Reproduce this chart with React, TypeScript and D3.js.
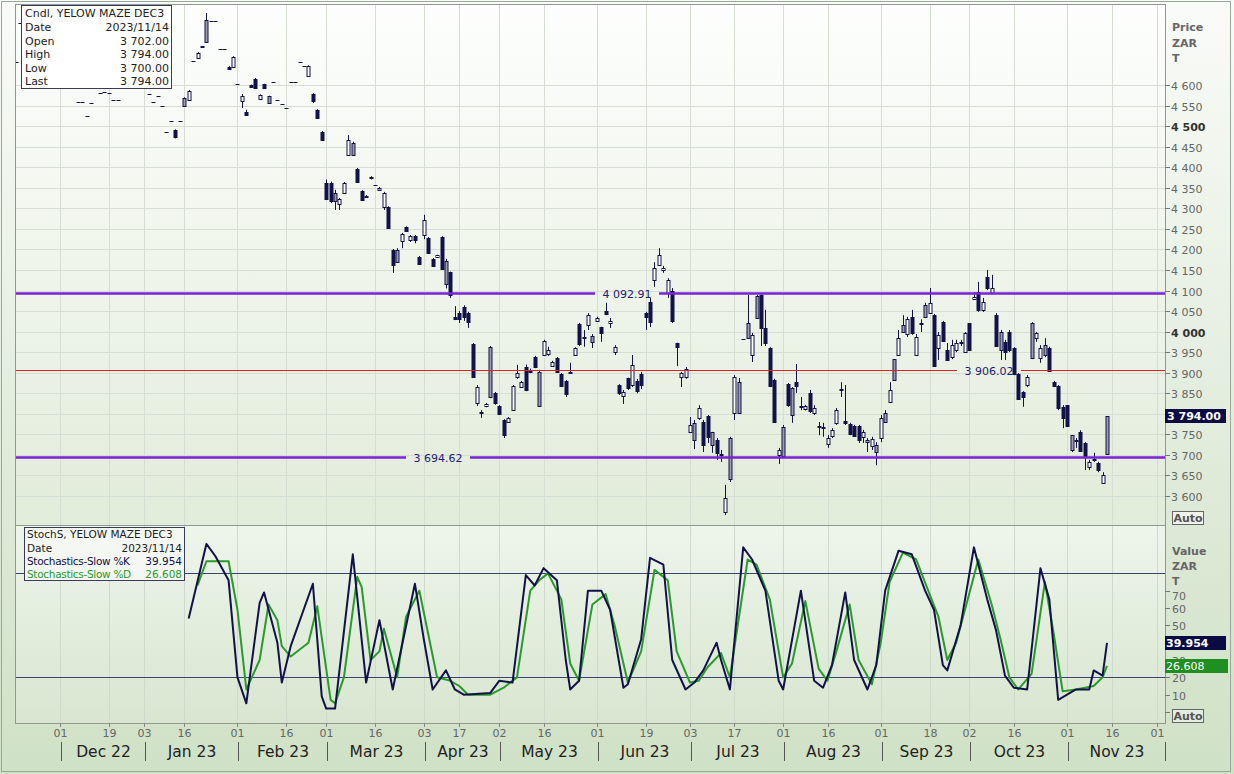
import * as d3 from 'd3';
import * as React from 'react';

// SAFEX trading calendar (weekdays minus public holidays)
const holidays = ['2022-12-16', '2022-12-26', '2022-12-27', '2023-01-02', '2023-03-21', '2023-04-07',
  '2023-04-10', '2023-04-27', '2023-05-01', '2023-06-16', '2023-08-09', '2023-09-25'];

// candles: [open, high, low, close]; a single number = flat trade; null = nothing visible
const nov22 = [4656, 4752, null, null, null, null, null, null, null, null];
const dec22 = [null, null, null, null, 4559, 4559, 4525, 4556, null, 4581, 4583, 4581, 4564, 4564, null, null, null, null, null];
const jan23 = [null, 4578, 4559, 4573, 4549, 4486, 4512, [4490, 4492, 4470, 4473], 4512, [4549, 4570, 4547, 4568],
  [4564, 4588, 4562, 4585], 4658, [4666, 4680, 4664, 4678], [4694, 4695, 4690, 4691], [4705, 4775, 4703, 4758],
  4756, 4756, 4688, 4688, [4645, 4646, 4638, 4640], [4644, 4670, 4642, 4668]];
const feb23 = [4602, [4561, 4578, 4544, 4573], [4535, 4540, 4526, 4528], [4600, 4601, 4595, 4596], [4615, 4617, 4590, 4592],
  [4566, 4577, 4564, 4575], [4602, 4603, 4592, 4593], [4556, 4574, 4555, 4573], 4607, 4564, 4554, 4544, 4607, 4607,
  4656, 4646, [4622, 4648, 4620, 4646], [4578, 4580, 4556, 4561], [4539, 4541, 4518, 4520], [4486, 4488, 4464, 4466]];
const mar23 = [[4362, 4370, 4320, 4322], [4362, 4365, 4313, 4318], [4318, 4345, 4296, 4337], [4310, 4325, 4296, 4323],
  [4337, 4364, 4335, 4362], [4430, 4478, 4428, 4466], [4430, 4462, 4428, 4458], [4396, 4398, 4362, 4364],
  [4342, 4344, 4318, 4320], [4327, 4332, 4325, 4330], [4376, 4378, 4370, 4374], 4357, [4345, 4352, 4343, 4349],
  [4303, 4340, 4296, 4337], [4303, 4305, 4250, 4252], [4199, 4201, 4143, 4162], [4169, 4203, 4167, 4199],
  [4220, 4240, 4203, 4237], [4255, 4256, 4243, 4245], [4222, 4235, 4218, 4232], [4232, 4235, 4215, 4222],
  [4182, 4184, 4162, 4165]];
const apr23 = [[4235, 4284, 4225, 4271], [4228, 4230, 4191, 4192], [4177, 4179, 4157, 4160], [4182, 4187, 4179, 4186],
  [4230, 4232, 4150, 4152], [4115, 4177, 4105, 4172], [4145, 4146, 4082, 4090], [4036, 4062, 4028, 4030],
  [4045, 4050, 4021, 4030], [4060, 4064, 4026, 4035], [4045, 4048, 4009, 4024], [3970, 3972, 3887, 3890],
  [3826, 3870, 3819, 3866], [3804, 3809, 3790, 3802], [3820, 3826, 3816, 3825], [3841, 3965, 3838, 3963],
  [3851, 3853, 3822, 3826]];
const may23 = [[3819, 3821, 3797, 3800], [3785, 3787, 3741, 3748], [3780, 3792, 3778, 3790], [3809, 3870, 3807, 3868],
  [3890, 3919, 3885, 3899], [3865, 3880, 3863, 3877], [3914, 3920, 3855, 3858], [3907, 3910, 3899, 3902],
  [3938, 3941, 3911, 3914], [3819, 3907, 3817, 3902], [3943, 3980, 3941, 3977], [3945, 3963, 3941, 3955],
  [3916, 3929, 3914, 3926], [3936, 3938, 3900, 3902], [3897, 3899, 3865, 3868], [3880, 3882, 3841, 3848],
  [3900, 3924, 3899, 3901], [3943, 3962, 3941, 3960], [4018, 4021, 3965, 3970], [3985, 4004, 3963, 3987],
  [4015, 4045, 4004, 4040], [3975, 3994, 3960, 3990]];
const jun23 = [[4026, 4036, 4024, 4034], [4011, 4012, 3975, 3997], [4050, 4070, 4040, 4043], [4021, 4033, 4009, 4025],
  [3952, 3967, 3943, 3963], [3870, 3872, 3846, 3850], [3843, 3858, 3824, 3853], [3887, 3888, 3858, 3862],
  [3870, 3943, 3865, 3919], [3880, 3885, 3850, 3855], [3897, 3902, 3860, 3870], [4045, 4048, 4004, 4036],
  [4072, 4082, 4011, 4023], [4126, 4169, 4109, 4155], [4162, 4203, 4160, 4186], [4150, 4160, 4143, 4155],
  [4094, 4130, 4082, 4126], [4100, 4106, 4021, 4028], [3972, 3973, 3916, 3963], [3890, 3902, 3865, 3899],
  [3890, 3914, 3885, 3909]];
const jul23 = [[3756, 3792, 3753, 3773], [3736, 3785, 3714, 3778], [3790, 3821, 3785, 3814], [3780, 3785, 3707, 3724],
  [3795, 3797, 3729, 3744], [3724, 3756, 3705, 3756], [3736, 3741, 3688, 3705], [3702, 3712, 3683, 3700],
  [3561, 3627, 3554, 3595], [3641, 3744, 3634, 3741], [3802, 3894, 3785, 3890], [3802, 3887, 3800, 3877],
  3982, [3984, 4089, 3982, 4021], [3943, 3997, 3926, 3992], [4033, 4089, 4031, 4087], [4089, 4092, 3965, 4009],
  [4009, 4053, 3965, 3972], [3960, 3962, 3865, 3868], [3882, 3885, 3778, 3780], [3700, 3717, 3678, 3712]];
const aug23 = [[3697, 3773, 3695, 3768], [3872, 3875, 3817, 3821], [3797, 3865, 3778, 3863], [3877, 3921, 3851, 3868],
  [3820, 3841, 3809, 3817], [3810, 3822, 3808, 3818], [3851, 3858, 3802, 3807], [3802, 3821, 3797, 3814],
  [3770, 3780, 3748, 3768], [3768, 3778, 3744, 3765], [3726, 3748, 3717, 3741], [3746, 3765, 3741, 3761],
  [3778, 3814, 3773, 3809], [3860, 3877, 3841, 3858], [3782, 3870, 3773, 3778], [3775, 3778, 3748, 3750],
  [3770, 3773, 3744, 3746], [3770, 3773, 3729, 3736], [3744, 3761, 3729, 3756], [3730, 3741, 3707, 3736],
  [3720, 3744, 3712, 3738], [3707, 3731, 3675, 3724]];
const sep23 = [[3741, 3797, 3731, 3790], [3780, 3809, 3778, 3802], [3829, 3877, 3826, 3858], [3882, 3933, 3880, 3933],
  [3943, 4004, 3941, 3984], [3999, 4040, 3997, 4016], [3994, 4036, 3987, 4031], [4036, 4053, 3992, 3997],
  [3943, 3994, 3943, 3987], [4020, 4030, 3999, 4018], [4036, 4070, 4033, 4065], [4045, 4106, 4043, 4070],
  [4040, 4043, 3914, 3916], [3960, 3999, 3931, 3992], [4023, 4026, 3975, 3977], [3955, 3972, 3929, 3931],
  [3938, 3980, 3933, 3967], [3955, 3980, 3950, 3972], [3975, 3980, 3965, 3973], [3950, 3999, 3950, 3997]];
const oct23 = [[4021, 4021, 3955, 3955], [4080, 4096, 4077, 4085], [4096, 4121, 4048, 4053], [4053, 4082, 4048, 4072],
  [4133, 4150, 4101, 4106], [4094, 4138, 4092, 4106], [4040, 4045, 3963, 3965], [3955, 4004, 3931, 3999],
  [3975, 3980, 3931, 3950], [3999, 4004, 3950, 3955], [3960, 3962, 3894, 3897], [3897, 3899, 3834, 3836],
  [3853, 3855, 3817, 3841], [3870, 3894, 3865, 3890], [3936, 4023, 3933, 4021], [3985, 3999, 3975, 3997],
  [3936, 3967, 3924, 3960], [3943, 3984, 3938, 3967], [3960, 3963, 3902, 3904], [3877, 3880, 3865, 3868],
  [3868, 3870, 3809, 3814], [3817, 3821, 3765, 3790]];
const nov23 = [[3821, 3821, 3768, 3770], [3712, 3748, 3707, 3748], [3735, 3741, 3717, 3736], [3756, 3760, 3707, 3710],
  [3729, 3731, 3663, 3695], [3670, 3688, 3663, 3683], [3690, 3705, 3683, 3688], [3680, 3683, 3658, 3663],
  [3632, 3658, 3632, 3651], [3702, 3794, 3700, 3794]];

// day numbers (0 = 2022-12-01) of candles drawn with grey bodies
const greyCandles = [28, 33, 47, 62, 66, 72, 76, 87, 97, 108, 120, 143, 147, 151, 153, 155, 157, 163, 165,
  182, 184, 186, 188, 190, 195, 212, 219, 222, 228, 236];

// slow stochastic, [day number, value]
const stochK = [[29, 54], [33, 97], [35, 90], [38, 76], [40, 20], [42, 5], [45, 63], [46, 69], [49, 40], [50, 17],
  [52, 38], [57, 74], [59, 9], [60, 2], [62, 2], [66, 91], [69, 17], [72, 53], [75, 13], [80, 74], [82, 42],
  [84, 13], [87, 24], [89, 13], [91, 10], [97, 11], [99, 18], [102, 17], [105, 79], [107, 73], [109, 83],
  [112, 76], [114, 30], [115, 13], [117, 18], [119, 70], [122, 70], [124, 59], [127, 14], [128, 16], [131, 42],
  [133, 89], [136, 85], [138, 30], [141, 13], [143, 17], [145, 24], [148, 40], [149, 30], [151, 13], [154, 95],
  [156, 88], [159, 70], [162, 18], [163, 13], [167, 70], [170, 18], [172, 14], [174, 27], [177, 69], [179, 30],
  [182, 13], [184, 27], [186, 70], [189, 93], [192, 91], [195, 70], [197, 59], [199, 27], [200, 24], [203, 50],
  [206, 95], [209, 65], [211, 47], [213, 21], [215, 14], [218, 13], [219, 36], [221, 83], [223, 65], [225, 7],
  [227, 10], [229, 13], [232, 13], [233, 24], [235, 21], [236, 39.954]];
const stochD = [[31, 73], [33, 87], [38, 87], [40, 59], [42, 13], [45, 30], [47, 62], [49, 53], [50, 38], [52, 32],
  [56, 40], [58, 61], [61, 7], [62, 5], [64, 20], [67, 78], [68, 72], [70, 30], [72, 35], [73, 48], [76, 20],
  [78, 55], [81, 70], [83, 45], [85, 20], [88, 18], [90, 15], [92, 10], [97, 10], [100, 14], [103, 20], [106, 70],
  [108, 76], [110, 80], [113, 65], [115, 28], [117, 18], [120, 62], [123, 68], [125, 50], [128, 17], [131, 35],
  [134, 82], [137, 76], [139, 35], [142, 17], [144, 18], [146, 26], [149, 34], [151, 20], [155, 88], [157, 85],
  [160, 65], [163, 20], [165, 28], [168, 64], [171, 25], [173, 18], [175, 35], [178, 62], [180, 30], [183, 16],
  [185, 40], [187, 75], [190, 92], [193, 88], [196, 68], [198, 55], [200, 30], [202, 40], [207, 88], [210, 62],
  [212, 42], [214, 20], [216, 13], [219, 22], [222, 75], [224, 45], [226, 12], [229, 13], [233, 15], [235, 20],
  [236, 26.608]];

const levels = [4092.91, 3906.02, 3694.62];
const stochLevels = [80, 20];

const dayTicks = ['2022-12-01', '2022-12-19', '2023-01-03', '2023-01-16', '2023-02-01', '2023-02-16', '2023-03-01',
  '2023-03-16', '2023-04-03', '2023-04-17', '2023-05-02', '2023-05-16', '2023-06-01', '2023-06-19', '2023-07-03',
  '2023-07-17', '2023-08-01', '2023-08-16', '2023-09-01', '2023-09-18', '2023-10-02', '2023-10-16', '2023-11-01',
  '2023-11-16', '2023-12-01'];
const monthStarts = ['2022-12-01', '2023-01-03', '2023-02-01', '2023-03-01', '2023-04-03', '2023-05-02', '2023-06-01',
  '2023-07-03', '2023-08-01', '2023-09-01', '2023-10-02', '2023-11-01'];
const monthLabels = ['Dec 22', 'Jan 23', 'Feb 23', 'Mar 23', 'Apr 23', 'May 23', 'Jun 23', 'Jul 23', 'Aug 23',
  'Sep 23', 'Oct 23', 'Nov 23'];
const stochTicks = [10, 20, 30, 50, 60, 70];

const lastDate = '2023/11/14';
const last = { open: 3702, high: 3794, low: 3700, close: 3794 };
const lastK = 39.954;
const lastD = 26.608;

const fmtDay = d3.utcFormat('%Y-%m-%d');
const calendar = d3.utcDay.range(new Date(Date.UTC(2022, 10, 17)), new Date(Date.UTC(2023, 11, 2)))
  .filter(d => d.getUTCDay() !== 0 && d.getUTCDay() !== 6 && !holidays.includes(fmtDay(d)))
  .map(fmtDay);
const origin = calendar.indexOf('2022-12-01');
const dayNo = (s: string) => calendar.indexOf(s) - origin;

const candles: any[] = [...nov22, ...dec22, ...jan23, ...feb23, ...mar23, ...apr23, ...may23, ...jun23, ...jul23,
  ...aug23, ...sep23, ...oct23, ...nov23];

const loc = d3.formatLocale({ decimal: '.', thousands: ' ', grouping: [3], currency: ['', ''] });
const f2 = loc.format(',.2f');
const f0 = loc.format(',.0f');

const FONT = 'DejaVu Sans';
const NAVY = '#12124a';
const GREEN = '#2b9a2b';
const L = 15, R = 1165;
const PT = 4, PB = 525, ST = 525, SB = 723;

export default function App() {
  React.useEffect(() => { document.body.style.margin = '0'; }, []);

  const x = d3.scaleLinear()
    .domain([0, dayNo('2023-11-14'), dayNo('2023-11-16'), dayNo('2023-12-01')])
    .range([60, 1107, 1112, 1157]);
  const y = d3.scaleLinear().domain([3600, 4600]).range([496, 85]);
  const ys = d3.scaleLinear().domain([0, 100]).range([712, 538.7]);
  const priceTicks = d3.range(3600, 4601, 50);

  const line = d3.line<number[]>().x(d => x(d[0])).y(d => ys(d[1]));

  const labelGap = (cx: number, color: string, w: number, txt: string, yy: number) => {
    const tw = txt.length * 7 + 8;
    return (
      <g key={txt}>
        <line x1={L} x2={cx - tw / 2} y1={yy} y2={yy} stroke={color} strokeWidth={w} />
        <line x1={cx + tw / 2} x2={R} y1={yy} y2={yy} stroke={color} strokeWidth={w} />
        <text x={cx} y={yy + 4} textAnchor="middle" fontSize={11} fill="#1c1c78" fontFamily={FONT}>{txt}</text>
      </g>
    );
  };

  const candleMarks = candles.map((c, i) => {
    if (c === null) return null;
    const n = i - origin;
    const cx = Math.round(x(n)) + 0.5;
    if (typeof c === 'number') {
      const yy = Math.round(y(c)) + 0.5;
      return <line key={i} x1={cx - 2} x2={cx + 2} y1={yy} y2={yy} stroke={NAVY} strokeWidth={1} />;
    }
    const [o, h, l, cl] = c;
    const top = y(Math.max(o, cl)), bot = y(Math.min(o, cl));
    const fill = cl < o ? NAVY : greyCandles.includes(n) ? '#9c9cab' : '#ffffff';
    return (
      <g key={i}>
        <line x1={cx} x2={cx} y1={y(h)} y2={y(l)} stroke={NAVY} strokeWidth={1} />
        <rect x={cx - 1.5} y={Math.round(top) + 0.5} width={3} height={Math.max(1, Math.round(bot - top))}
          fill={fill} stroke={NAVY} strokeWidth={1} />
      </g>
    );
  });

  const sepX = monthStarts.map(s => Math.round(x(dayNo(s))) + 1.5).concat([R + 0.5]);

  return (
    <div style={{ position: 'absolute', left: 0, top: 0 }}>
      <svg width={1234} height={774} style={{ display: 'block' }}>
        <defs>
          <linearGradient id="bg" x1="0" y1="0" x2="0" y2="1">
            <stop offset="0" stopColor="#f9fbf8" />
            <stop offset="1" stopColor="#cfe1c6" />
          </linearGradient>
          <linearGradient id="pp" x1="0" y1="0" x2="0" y2="1">
            <stop offset="0" stopColor="#fdfefd" />
            <stop offset="1" stopColor="#e2ecda" />
          </linearGradient>
          <linearGradient id="sp" x1="0" y1="0" x2="0" y2="1">
            <stop offset="0" stopColor="#eef5eb" />
            <stop offset="1" stopColor="#d8e6d0" />
          </linearGradient>
          <clipPath id="cp"><rect x={L} y={PT} width={R - L} height={PB - PT} /></clipPath>
          <clipPath id="cs"><rect x={L} y={ST} width={R - L} height={SB - ST} /></clipPath>
        </defs>
        <rect x={0} y={0} width={1234} height={774} fill="url(#bg)" />
        <rect x={1.5} y={1.5} width={1229} height={770} fill="none" stroke="#9aa79a" />
        <rect x={L} y={PT} width={R - L} height={PB - PT} fill="url(#pp)" />
        <rect x={L} y={ST} width={R - L} height={SB - ST} fill="url(#sp)" />

        {/* grid */}
        {priceTicks.map(t => (
          <line key={'hg' + t} x1={L} x2={R} y1={Math.round(y(t)) + 0.5} y2={Math.round(y(t)) + 0.5} stroke="#d6ddd3" />
        ))}
        {dayTicks.map(s => {
          const xx = Math.round(x(dayNo(s))) + 0.5;
          return (
            <g key={'vg' + s}>
              <line x1={xx} x2={xx} y1={PT} y2={PB} stroke="#d6ddd3" />
              <line x1={xx} x2={xx} y1={ST} y2={SB} stroke="#d0dacb" />
            </g>
          );
        })}

        {/* price panel */}
        <g clipPath="url(#cp)">
          {candleMarks}
        </g>
        {labelGap(627, '#7b22d6', 2.5, f2(levels[0]), Math.round(y(levels[0])) + 0.5)}
        {labelGap(989, '#e02424', 1, f2(levels[1]), Math.round(y(levels[1])) + 0.5)}
        {labelGap(438, '#7b22d6', 2.5, f2(levels[2]), Math.round(y(levels[2])) + 0.5)}

        {/* stochastic panel */}
        {stochLevels.map(v => (
          <line key={'sl' + v} x1={L} x2={R} y1={Math.round(ys(v)) + 0.5} y2={Math.round(ys(v)) + 0.5} stroke="#3b4670" />
        ))}
        <g clipPath="url(#cs)">
          <path d={line(stochD as any) || ''} fill="none" stroke={GREEN} strokeWidth={2} strokeLinejoin="round" />
          <path d={line(stochK as any) || ''} fill="none" stroke={NAVY} strokeWidth={2} strokeLinejoin="round" />
        </g>

        {/* frames */}
        <rect x={L + 0.5} y={PT + 0.5} width={R - L} height={PB - PT} fill="none" stroke="#8e9a8e" />
        <rect x={L + 0.5} y={ST + 0.5} width={R - L} height={SB - ST} fill="none" stroke="#8e9a8e" />

        {/* right price axis */}
        <g fontFamily={FONT} fontSize={11}>
          {['Price', 'ZAR', 'T'].map((t, i) => (
            <text key={t} x={1172} y={31 + i * 15.5} fontWeight="bold" fill="#666">{t}</text>
          ))}
          {priceTicks.map(t => {
            const yy = Math.round(y(t)) + 0.5;
            const hidden = Math.abs(y(t) - y(last.close)) < 9;
            const bold = t % 500 === 0;
            return (
              <g key={'pt' + t}>
                <line x1={R} x2={R + 5} y1={yy} y2={yy} stroke="#777" />
                {!hidden && <text x={1171} y={yy + 4} fill={bold ? '#333' : '#666'} fontWeight={bold ? 'bold' : 'normal'}>{f0(t)}</text>}
              </g>
            );
          })}
          <rect x={R} y={Math.round(y(last.close)) - 7} width={61} height={14} fill="#0b0b44" />
          <text x={R + 2} y={Math.round(y(last.close)) + 4} fill="#fff" fontWeight="bold">{f2(last.close)}</text>
          <rect x={1172.5} y={511.5} width={31} height={13} fill="#eef3ec" stroke="#666" />
          <text x={1188} y={522} textAnchor="middle" fontWeight="bold" fill="#555">Auto</text>

          {['Value', 'ZAR', 'T'].map((t, i) => (
            <text key={'v' + t} x={1172} y={555 + i * 15} fontWeight="bold" fill="#666">{t}</text>
          ))}
          <line x1={R} x2={R + 5} y1={Math.round(ys(0)) + 0.5} y2={Math.round(ys(0)) + 0.5} stroke="#777" />
          {stochTicks.map(t => {
            const yy = Math.round(ys(t)) + 0.5;
            return (
              <g key={'st' + t}>
                <line x1={R} x2={R + 5} y1={yy} y2={yy} stroke="#777" />
                <text x={1172} y={Math.max(yy + 4, 600)} fill="#666">{t}</text>
              </g>
            );
          })}
          <rect x={R} y={Math.round(ys(lastK)) - 7} width={61} height={14} fill="#0b0b44" />
          <text x={R + 1} y={Math.round(ys(lastK)) + 4} fill="#fff" fontWeight="bold">{lastK.toFixed(3)}</text>
          <rect x={R} y={Math.round(ys(lastD)) - 7} width={63} height={14} fill="#1f8f1f" />
          <text x={R + 1} y={Math.round(ys(lastD)) + 4} fill="#fff">{lastD.toFixed(3)}</text>
          <rect x={1172.5} y={709.5} width={31} height={13} fill="#e3ede0" stroke="#666" />
          <text x={1188} y={720} textAnchor="middle" fontWeight="bold" fill="#555">Auto</text>
        </g>

        {/* time axis */}
        <g fontFamily={FONT}>
          {dayTicks.map(s => {
            const xx = Math.round(x(dayNo(s))) + 0.5;
            return (
              <g key={'dt' + s}>
                <line x1={xx} x2={xx} y1={SB} y2={SB + 4} stroke="#888" />
                <text x={xx} y={737} textAnchor="middle" fontSize={11} fill="#666">{s.slice(8)}</text>
              </g>
            );
          })}
          {sepX.map((sx, i) => (
            <line key={'sp' + i} x1={sx} x2={sx} y1={742} y2={761} stroke="#555" />
          ))}
          {monthLabels.map((m, i) => (
            <text key={m} x={(sepX[i] + sepX[i + 1]) / 2} y={757} textAnchor="middle" fontSize={15.5} fill="#222">{m}</text>
          ))}
        </g>

        {/* legends */}
        <g fontFamily={FONT} fontSize={11}>
          <rect x={21.5} y={5.5} width={150} height={83} fill="#fff" stroke="#3a3a5a" />
          <text x={25} y={17} fill="#222">Cndl, YELOW  MAZE DEC3</text>
          {[['Date', lastDate], ['Open', f2(last.open)], ['High', f2(last.high)], ['Low', f2(last.low)], ['Last', f2(last.close)]]
            .map(([k, v], i) => (
              <g key={k}>
                <text x={25} y={31 + i * 13.5} fill="#222">{k}</text>
                <text x={169} y={31 + i * 13.5} textAnchor="end" fill="#222">{v}</text>
              </g>
            ))}
          <rect x={24.5} y={527.5} width={160} height={53} fill="#f4f7f2" stroke="#3a3a5a" />
          <text x={27} y={538} fill="#222" fontSize={10.5}>StochS, YELOW  MAZE DEC3</text>
          <text x={27} y={551.5} fill="#222" fontSize={10.5}>Date</text>
          <text x={182} y={551.5} textAnchor="end" fill="#222" fontSize={10.5}>{lastDate}</text>
          <text x={27} y={565} fill={NAVY} fontSize={10.5} letterSpacing={-0.3}>Stochastics-Slow %K</text>
          <text x={182} y={565} textAnchor="end" fill={NAVY} fontSize={10.5}>{lastK.toFixed(3)}</text>
          <text x={27} y={578} fill={GREEN} fontSize={10.5} letterSpacing={-0.3}>Stochastics-Slow %D</text>
          <text x={182} y={578} textAnchor="end" fill={GREEN} fontSize={10.5}>{lastD.toFixed(3)}</text>
        </g>
      </svg>
    </div>
  );
}
